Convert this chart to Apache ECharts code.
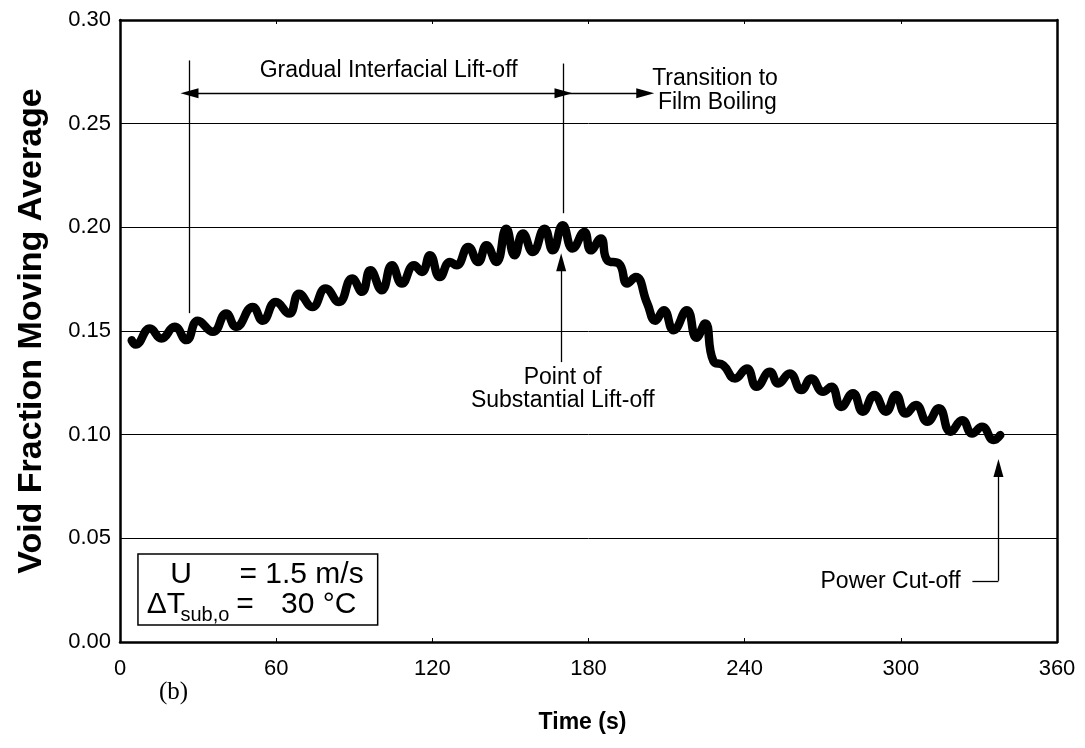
<!DOCTYPE html>
<html><head><meta charset="utf-8">
<script src="https://cdn.jsdelivr.net/npm/echarts@6/dist/echarts.min.js"></script>
<style>html,body{margin:0;padding:0;background:#fff}#c{width:1085px;height:748px}</style>
</head><body><div id="c"></div>
<script>
// ---- data ----
const timeS = [4.5,6,11.5,15.9,21,25.5,29.9,35.7,40.8,44.6,51,54.8,59.9,65,68.8,73.9,79,84.1,89.2,93,96.2,100.6,104.5,108.3,113,116,119.1,122.9,126.8,129.3,133.8,137.6,140.8,144.6,148.4,151.6,154.8,158.6,163.1,166.3,170.1,173.9,178.4,180.9,184.7,187.3,191.7,194.9,198.1,202.6,205.7,208.9,212.7,217.8,221.5,224.8,228,231.8,236.3,240.8,244.6,249.7,252.9,257.3,261.8,265.6,270.1,273.3,277.1,281.6,285.4,289.8,294.3,298.1,301.9,305.8,310.2,314.6,319.1,323.6,327.4,331.2,335.7,338.2];
const voidFrac = [0.1455,0.1435,0.1512,0.1464,0.152,0.1456,0.155,0.1496,0.1584,0.152,0.1616,0.155,0.164,0.1584,0.168,0.1616,0.1705,0.164,0.1753,0.1689,0.1793,0.1697,0.1817,0.1729,0.1817,0.1785,0.1865,0.176,0.1833,0.1817,0.1905,0.1833,0.1913,0.1833,0.1993,0.1865,0.197,0.1881,0.1993,0.1889,0.201,0.1898,0.1978,0.1889,0.1946,0.184,0.1825,0.1729,0.176,0.1632,0.155,0.16,0.1504,0.16,0.1468,0.1536,0.1355,0.1335,0.1271,0.1319,0.1231,0.1303,0.1247,0.1295,0.1215,0.1271,0.1207,0.1231,0.1134,0.12,0.1111,0.1191,0.1111,0.1191,0.1102,0.1143,0.1062,0.1127,0.1014,0.107,0.1006,0.1038,0.0974,0.0998];
const xTickLabels = ['0','60','120','180','240','300','360'];
const yTickLabels = ['0.00','0.05','0.10','0.15','0.20','0.25','0.30'];
// annotation lines in data units: [t1,y1,t2,y2,startSymbol,endSymbol]
const annotLines = [
  [26.7,0.2805,26.7,0.1586,'none','none'],
  [26.7,0.2647,170.4,0.2647,'triangle','triangle'],
  [170.4,0.279,170.4,0.2068,'none','none'],
  [170.4,0.2647,201.8,0.2647,'none','triangle'],
  [169.5,0.135,169.5,0.1832,'none','triangle'],
  [327.5,0.0295,337.5,0.0295,'none','none'],
  [337.5,0.0295,337.5,0.0839,'none','triangle']
];
// annotation texts in data units: [text,t,y,align]
const annotTexts = [
  ['Gradual Interfacial Lift-off',103.2,0.2757,'center'],
  ['Transition to',228.6,0.2718,'center'],
  ['Film Boiling',229.5,0.2603,'center'],
  ['Point of',170.1,0.1277,'center'],
  ['Substantial Lift-off',170.1,0.1166,'center'],
  ['Power Cut-off',323,0.0289,'right']
];
// condition box (data units) and its texts
const boxCorners = [[6.9,0.0424],[99,0.0082]];
const boxTexts = [
  ['U',23.5,0.0323,'center',30],
  ['= 1.5 m/s',45.9,0.0323,'left',30],
  ['\u0394T',10.3,0.0178,'left',30],
  ['sub,o',23.2,0.0126,'left',20],
  ['=',44.7,0.0178,'left',30],
  ['30 \u00B0C',61.9,0.0178,'left',30]
];

const seriesData = timeS.map((t,i)=>[t,voidFrac[i]]);
const FONT = '"Liberation Sans", Arial, Helvetica, sans-serif';
const chart = echarts.init(document.getElementById('c'), null, {renderer:'canvas'});

const markData = annotLines.map(a=>[
  {coord:[a[0],a[1]], symbol:a[4], symbolSize:[10,18]},
  {coord:[a[2],a[3]], symbol:a[5], symbolSize:[10,18]}
]);

chart.setOption({
  animation:false,
  backgroundColor:'#fff',
  grid:{left:120,right:28,top:20,bottom:106,containLabel:false},
  xAxis:[{
    type:'value',min:0,max:360,interval:60,
    name:'Time (s)',nameLocation:'middle',nameGap:69,
    nameTextStyle:{fontFamily:FONT,fontWeight:'bold',fontSize:23,color:'#000',padding:[0,12,0,0]},
    axisLine:{show:true,onZero:false,lineStyle:{color:'#000',width:2.5}},
    axisTick:{show:true,inside:true,length:4,lineStyle:{color:'#000',width:1}},
    axisLabel:{fontFamily:FONT,fontSize:22,color:'#000',margin:16,
      formatter:(v)=>xTickLabels[Math.round(v/60)]},
    splitLine:{show:false}
  },{
    type:'value',min:0,max:360,interval:60,position:'top',
    axisLine:{show:true,onZero:false,lineStyle:{color:'#000',width:2.5}},
    axisTick:{show:true,inside:true,length:4,lineStyle:{color:'#000',width:1}},
    axisLabel:{show:false},splitLine:{show:false}
  }],
  yAxis:[{
    type:'value',min:0,max:0.3,interval:0.05,
    name:'Void Fraction Moving Average',nameLocation:'middle',nameGap:71,
    nameTextStyle:{fontFamily:FONT,fontWeight:'bold',fontSize:34,color:'#000'},
    axisLine:{show:true,onZero:false,lineStyle:{color:'#000',width:2.5}},
    axisTick:{show:false},
    axisLabel:{fontFamily:FONT,fontSize:22,color:'#000',margin:9,
      formatter:(v)=>yTickLabels[Math.round(v/0.05)]},
    splitLine:{show:true,lineStyle:{color:'#000',width:1}}
  },{
    type:'value',min:0,max:0.3,interval:0.05,position:'right',
    axisLine:{show:true,onZero:false,lineStyle:{color:'#000',width:2.5}},
    axisTick:{show:false},axisLabel:{show:false},splitLine:{show:false}
  }],
  series:[{
    type:'line',data:seriesData,smooth:0.5,showSymbol:false,
    lineStyle:{color:'#000',width:8.5,join:'round',cap:'round'},
    z:3
  },{
    type:'line',data:[],
    markLine:{silent:true,animation:false,label:{show:false},
      lineStyle:{color:'#000',width:1.3,type:'solid'},
      itemStyle:{color:'#000'},
      data:markData},
    z:4
  }]
});

function px(t,y){return chart.convertToPixel({xAxisIndex:0,yAxisIndex:0},[t,y]);}
const graphics = [];
annotTexts.forEach(a=>{
  const p = px(a[1],a[2]);
  graphics.push({type:'text',x:p[0],y:p[1],z:10,
    style:{text:a[0],fontFamily:FONT,fontSize:23,fill:'#000',align:a[3],verticalAlign:'middle'}});
});
const b0 = px(boxCorners[0][0],boxCorners[0][1]);
const b1 = px(boxCorners[1][0],boxCorners[1][1]);
graphics.push({type:'rect',z:10,shape:{x:b0[0],y:b0[1],width:b1[0]-b0[0],height:b1[1]-b0[1]},
  style:{fill:'#fff',stroke:'#000',lineWidth:1.5}});
boxTexts.forEach(a=>{
  const p = px(a[1],a[2]);
  graphics.push({type:'text',x:p[0],y:p[1],z:11,
    style:{text:a[0],fontFamily:FONT,fontSize:a[4],fill:'#000',align:a[3],verticalAlign:'middle'}});
});
graphics.push({type:'text',left:159,top:680,z:10,
  style:{text:'(b)',fontFamily:'"Liberation Serif","Times New Roman",serif',fontSize:25,fill:'#000'}});
chart.setOption({graphic:graphics});
</script></body></html>
